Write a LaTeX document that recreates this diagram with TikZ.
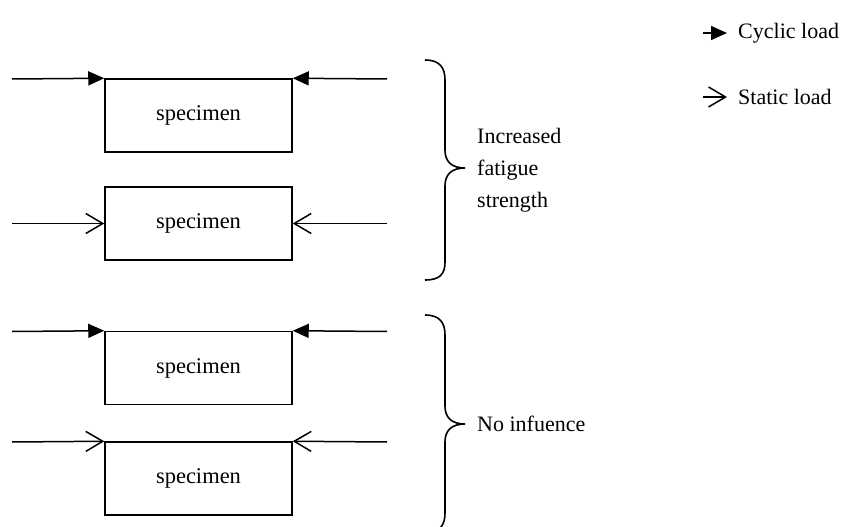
\documentclass[tikz,border=0pt]{standalone}
\usepackage{fontspec}
\setmainfont{Liberation Serif}
\usetikzlibrary{arrows.meta}
\begin{document}
\begin{tikzpicture}[x=1pt,y=-1pt,
  spec/.style={draw,line width=1.5pt,minimum width=187pt,minimum height=73pt,inner sep=0pt,font=\fontsize{22.5}{24}\selectfont},
  cyc/.style={line width=1.5pt,-{Triangle[length=16pt,width=14pt]}},
  sta/.style={line width=1.5pt,-{Straight Barb[length=17pt,width=20pt,line width=1.5pt]}},
  brc/.style={line width=1.6pt},
  lbl/.style={anchor=west,inner sep=0pt,font=\fontsize{22}{32}\selectfont,align=left}]
\useasboundingbox (0,0) rectangle (863,527);
% legend
\coordinate (lc) at (703,33);
\node[lbl] (cyclic) at (738,33) {Cyclic load};
\draw[cyc] (lc) -- ([xshift=-11pt]cyclic.west);
\coordinate (ls) at (703,97);
\node[lbl] (static) at (738,97) {Static load};
\draw[sta] (ls) -- ([xshift=-11pt]static.west);
% specimens
\node[spec] (s1) at (198.5,115.5) {specimen};
\node[spec] (s2) at (198.5,223.5) {specimen};
\node[spec] (s3) at (198.5,368) {specimen};
\node[spec] (s4) at (198.5,478.5) {specimen};
% loads
\coordinate (a1) at (12,79); \coordinate (b1) at (387,79);
\draw[cyc] (a1) -- (s1.north west);
\draw[cyc] (b1) -- (s1.north east);
\coordinate (a2) at (12,223.5); \coordinate (b2) at (387,223.5);
\draw[sta] (a2) -- (s2.west);
\draw[sta] (b2) -- (s2.east);
\coordinate (a3) at (12,331.5); \coordinate (b3) at (387,331.5);
\draw[cyc] (a3) -- (s3.north west);
\draw[cyc] (b3) -- (s3.north east);
\coordinate (a4) at (12,442); \coordinate (b4) at (387,442);
\draw[sta] (a4) -- (s4.north west);
\draw[sta] (b4) -- (s4.north east);
% braces
\draw[brc] (425,60) .. controls (440,60) and (445,68) .. (445,80) -- (445,150)
  .. controls (445,162) and (452,168) .. (465,168)
  .. controls (452,168) and (445,174) .. (445,186) -- (445,262)
  .. controls (445,274) and (440,280) .. (425,280);
\draw[brc] (425,315) .. controls (440,315) and (445,323) .. (445,335) -- (445,406)
  .. controls (445,418) and (452,424) .. (465,424)
  .. controls (452,424) and (445,430) .. (445,442) -- (445,513)
  .. controls (445,525) and (440,533) .. (425,533);
\node[lbl] (inc) at (477,170) {Increased\\fatigue\\strength};
\node[lbl] (noinf) at (477,424) {No infuence};
\end{tikzpicture}
\end{document}
